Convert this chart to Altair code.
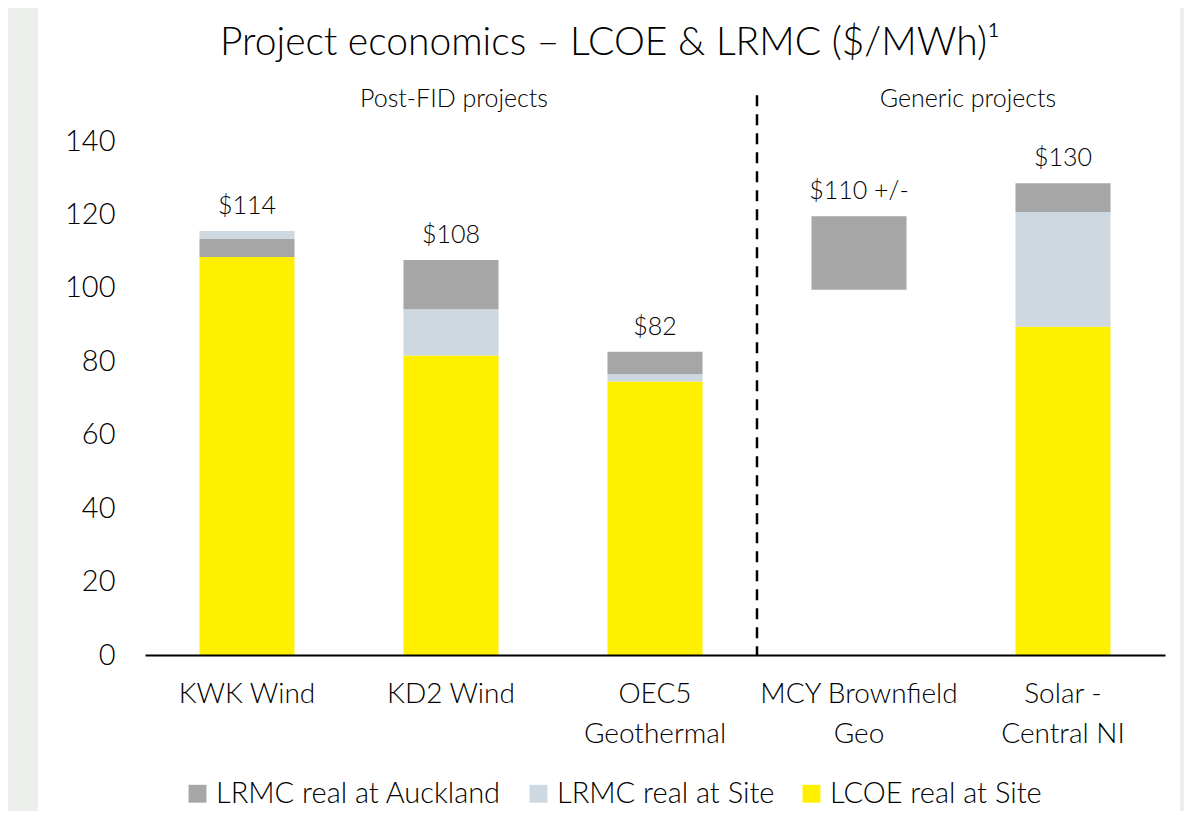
import altair as alt
import pandas as pd

# ---- data ----
categories = ["KWK Wind", "KD2 Wind", "OEC5\nGeothermal", "MCY Brownfield\nGeo", "Solar -\nCentral NI"]
series = ["LRMC real at Auckland", "LRMC real at Site", "LCOE real at Site"]
series_colors = ["#a6a6a6", "#cdd8e0", "#fff000"]

lcoe_site = [108.4, 81.6, 74.5, 0.0, 89.4]
lrmc_site = [2.2, 12.6, 2.0, 0.0, 31.3]
lrmc_auckland = [4.9, 13.4, 6.1, 20.0, 7.8]
bar_base = [0.0, 0.0, 0.0, 99.5, 0.0]   # MCY is shown as a ~100-120 range
stack_order = [
    ["LCOE real at Site", "LRMC real at Auckland", "LRMC real at Site"],
    ["LCOE real at Site", "LRMC real at Site", "LRMC real at Auckland"],
    ["LCOE real at Site", "LRMC real at Site", "LRMC real at Auckland"],
    ["LCOE real at Site", "LRMC real at Site", "LRMC real at Auckland"],
    ["LCOE real at Site", "LRMC real at Site", "LRMC real at Auckland"],
]
value_labels = ["$114", "$108", "$82", "$110 +/-", "$130"]
group_names = ["Post-FID projects", "Generic projects"]
divider_top = 152.5
header_level = 151.5
y_ticks = [0, 20, 40, 60, 80, 100, 120, 140]

FONT = "Lato"
WEIGHT = 300

values = {
    "LCOE real at Site": lcoe_site,
    "LRMC real at Site": lrmc_site,
    "LRMC real at Auckland": lrmc_auckland,
}

rows, tops = [], []
for i, cat in enumerate(categories):
    start = bar_base[i]
    for s in stack_order[i]:
        v = values[s][i]
        if v > 0:
            rows.append({"cat": cat, "series": s, "y0": start, "y1": start + v})
            start += v
    tops.append(start)
bars_df = pd.DataFrame(rows)
labels_df = pd.DataFrame({"cat": categories, "top": tops, "label": value_labels})

xscale = alt.Scale(domain=categories, paddingInner=0.534, paddingOuter=0.267)
xscale_flat = alt.Scale(domain=categories, paddingInner=0, paddingOuter=0)
yscale = alt.Scale(domain=[0, 155], nice=False)

x_enc = alt.X(
    "cat:N", scale=xscale, sort=categories, title=None,
    axis=alt.Axis(
        labelExpr="split(datum.label, '\\n')", labelAngle=0, labelFontSize=28,
        labelLineHeight=40, labelPadding=25, ticks=False, domainColor="black",
        domainWidth=2, labelColor="black", labelFont=FONT, labelFontWeight=WEIGHT,
        labelLimit=400, zindex=1,
    ),
)
y_enc_axis = alt.Axis(
    values=y_ticks, labelFontSize=29, labelPadding=30, ticks=False, domain=False,
    grid=False, labelColor="black", labelFont=FONT, labelFontWeight=WEIGHT, zindex=1,
)

panel = alt.Chart(pd.DataFrame({"a": [0]})).mark_rect(color="white").encode(
    x=alt.value(-107), x2=alt.value(1035), y=alt.value(-78), y2=alt.value(733)
)

bars = alt.Chart(bars_df).mark_bar(strokeWidth=0).encode(
    x=x_enc,
    y=alt.Y("y0:Q", scale=yscale, axis=y_enc_axis, title=None),
    y2="y1:Q",
    color=alt.Color(
        "series:N",
        scale=alt.Scale(domain=series, range=series_colors),
        legend=alt.Legend(
            title=None, orient="none", direction="horizontal", legendX=38, legendY=693,
            symbolType="square", symbolSize=320, symbolStrokeWidth=0,
            labelFontSize=29, labelFont=FONT, labelFontWeight=WEIGHT, labelColor="black",
            columnPadding=22, labelOffset=4, labelLimit=500,
        ),
    ),
)

value_text = alt.Chart(labels_df).mark_text(
    fontSize=25, font=FONT, fontWeight=WEIGHT, color="black", baseline="middle", dy=-25
).encode(x=alt.X("cat:N", scale=xscale, sort=categories, axis=None),
         y=alt.Y("top:Q", scale=yscale), text="label:N")

divider = alt.Chart(pd.DataFrame({"cat": [categories[3]], "y0": [0.0], "y1": [divider_top]})).mark_rule(
    color="black", strokeWidth=2.5, strokeDash=[11, 8]
).encode(
    x=alt.X("cat:N", scale=xscale_flat, sort=categories, bandPosition=0, axis=None),
    y=alt.Y("y1:Q", scale=yscale), y2="y0:Q",
)

head1 = alt.Chart(pd.DataFrame({"cat": [categories[1]], "y": [header_level], "t": [group_names[0]]})).mark_text(
    fontSize=25, font=FONT, fontWeight=WEIGHT, color="black", baseline="middle", dx=3
).encode(x=alt.X("cat:N", scale=xscale_flat, sort=categories, axis=None),
         y=alt.Y("y:Q", scale=yscale), text="t:N")

head2 = alt.Chart(pd.DataFrame({"cat": [categories[4]], "y": [header_level], "t": [group_names[1]]})).mark_text(
    fontSize=25, font=FONT, fontWeight=WEIGHT, color="black", baseline="middle", dx=-95
).encode(x=alt.X("cat:N", scale=xscale_flat, sort=categories, axis=None),
         y=alt.Y("y:Q", scale=yscale), text="t:N")

title = alt.Chart(pd.DataFrame({"t": ["Project economics – LCOE & LRMC ($/MWh)¹"]})).mark_text(
    fontSize=39, font=FONT, fontWeight=WEIGHT, color="black", baseline="middle", align="center"
).encode(x=alt.value(465), y=alt.value(-43), text="t:N")

chart = alt.layer(panel, bars, value_text, divider, head1, head2, title).resolve_scale(
    x="independent"
).properties(
    width=1020, height=569,
    autosize=alt.AutoSizeParams(type="none"),
    padding={"left": 137, "top": 78, "right": 19, "bottom": 156},
    background="#edefed",
).configure_view(strokeWidth=0)

chart.save("out.html", embed_options={"renderer": "svg", "actions": False})
